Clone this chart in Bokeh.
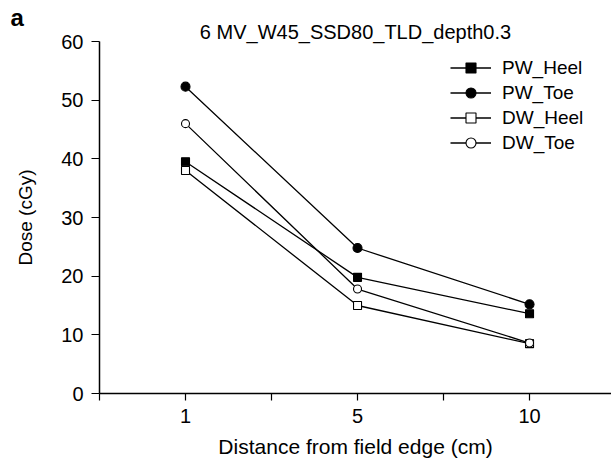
from bokeh.plotting import figure
from bokeh.models import Range1d, Legend, LegendItem, FixedTicker, Title
from bokeh.embed import file_html
from bokeh.resources import INLINE

# ---- data ----
distances = ["1", "5", "10"]
pw_heel = [39.5, 19.8, 13.6]
pw_toe = [52.3, 24.8, 15.2]
dw_heel = [38.0, 15.0, 8.5]
dw_toe = [46.0, 17.8, 8.6]
y_ticks = [0, 10, 20, 30, 40, 50, 60]
title_text = "6 MV_W45_SSD80_TLD_depth0.3"

# categorical slots on a numeric axis (every other tick labelled)
x_pos = [2 * i + 1 for i in range(len(distances))]
x_ticks = list(range(0, 2 * len(distances)))
x_labels = {t: "" for t in x_ticks}
for xp, d in zip(x_pos, distances):
    x_labels[xp] = d

FONT = "Liberation Sans"

p = figure(width=611, height=461, output_backend="svg", toolbar_location=None,
           x_range=Range1d(0, 5.953), y_range=Range1d(0, 60),
           min_border_left=99, min_border_right=0, min_border_top=41,
           min_border_bottom=68)
p.outline_line_color = None
p.grid.visible = False
p.background_fill_color = "white"

# title (nearest to frame) and panel letter (above it)
main_title = Title(text=title_text, align="center", offset=-2, standoff=-2,
                   text_font=FONT, text_font_size="20px",
                   text_font_style="normal", text_color="black")
letter = Title(text="a", align="left", offset=-89, standoff=-22,
               text_font=FONT, text_font_style="bold",
               text_font_size="24px", text_color="black")
p.title = None
p.above = [main_title, letter]

# axes
for ax in (p.xaxis[0], p.yaxis[0]):
    ax.axis_line_color = "black"
    ax.axis_line_width = 1.5
    ax.major_tick_line_color = "black"
    ax.major_tick_line_width = 1.2
    ax.major_tick_in = 0
    ax.minor_tick_line_color = None
    ax.major_label_text_font = FONT
    ax.major_label_text_font_size = "20px"
    ax.major_label_text_color = "black"
    ax.axis_label_text_font = FONT
    ax.axis_label_text_font_style = "normal"
    ax.axis_label_text_color = "black"

p.xaxis.ticker = FixedTicker(ticks=x_ticks)
p.xaxis.major_label_overrides = x_labels
p.xaxis.major_tick_out = 7
p.xaxis.major_label_standoff = 8
p.xaxis.axis_label = "Distance from field edge (cm)"
p.xaxis.axis_label_text_font_size = "21px"
p.xaxis.axis_label_standoff = 9

p.yaxis.ticker = FixedTicker(ticks=y_ticks)
p.yaxis.major_tick_out = 8
p.yaxis.major_label_standoff = 8
p.yaxis.axis_label = "Dose (cGy)"
p.yaxis.axis_label_text_font_size = "19px"
p.yaxis.axis_label_standoff = 22

# series
series = [
    ("PW_Heel", pw_heel, "square", "black"),
    ("PW_Toe", pw_toe, "circle", "black"),
    ("DW_Heel", dw_heel, "square", "white"),
    ("DW_Toe", dw_toe, "circle", "white"),
]
items = []
for name, ys, marker, fill in series:
    ln = p.line(x_pos, ys, line_color="black", line_width=1.3)
    sz = 8 if marker == "square" else 9
    if fill == "white":
        sz = 8
    mk = p.scatter(x_pos, ys, marker=marker, size=sz, fill_color=fill,
                   line_color="black", line_width=1.1)
    items.append(LegendItem(label=name, renderers=[ln, mk]))

legend = Legend(items=items, location=(351, 238), orientation="vertical",
                glyph_width=41, glyph_height=25, spacing=0, padding=0, margin=0,
                label_standoff=11, label_text_font=FONT,
                label_text_font_size="19px", label_text_color="black",
                border_line_color=None, background_fill_alpha=0,
                label_height=25)
p.add_layout(legend)

open("out.html", "w").write(file_html(p, INLINE))
